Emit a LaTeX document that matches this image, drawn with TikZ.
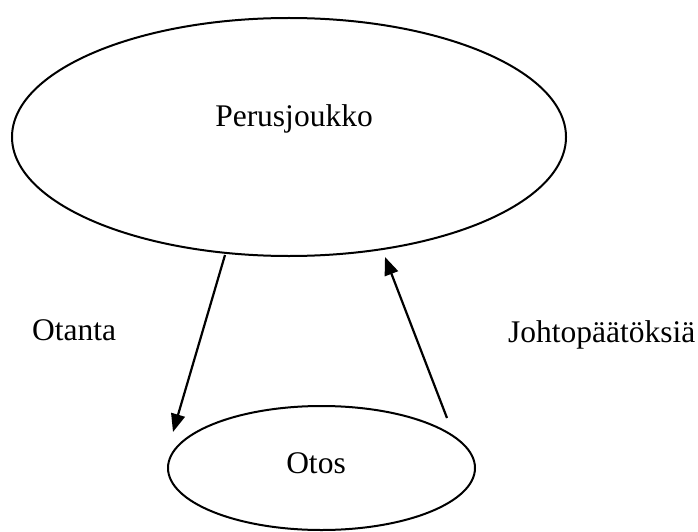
\documentclass[tikz,border=0pt]{standalone}
\usepackage{fontspec}
\setmainfont{Liberation Serif}
\usetikzlibrary{shapes.geometric,arrows.meta}
\begin{document}
\begin{tikzpicture}[x=1pt,y=-1pt,
  blob/.style={draw=black,line width=2pt,ellipse,inner sep=0pt},
  lbl/.style={inner sep=0pt,anchor=base,font=\fontsize{31.5}{36}\selectfont},
  conn/.style={line width=2.2pt,-{Triangle[length=18pt,width=14pt]}}]
\useasboundingbox (0,0) rectangle (698,532);
\node[blob,minimum width=554pt,minimum height=238pt] (pop) at (289,137) {};
\node[blob,minimum width=307pt,minimum height=124pt] (smp) at (321.5,468) {};
\node[lbl] (tpop) at (294,127) {Perusjoukko};
\node[lbl] (tsmp) at (316,473) {Otos};
\node[lbl,anchor=base west] (totanta) at (32,340) {Otanta};
\node[lbl,anchor=base west] (tjohto) at (508,342) {Johtopäätöksiä};
\coordinate (a1s) at (225,255);
\coordinate (a1e) at (173,432);
\coordinate (a2s) at (447,418);
\coordinate (a2e) at (385,257);
\draw[conn] (a1s) -- (a1e);
\draw[conn] (a2s) -- (a2e);
\end{tikzpicture}
\end{document}
